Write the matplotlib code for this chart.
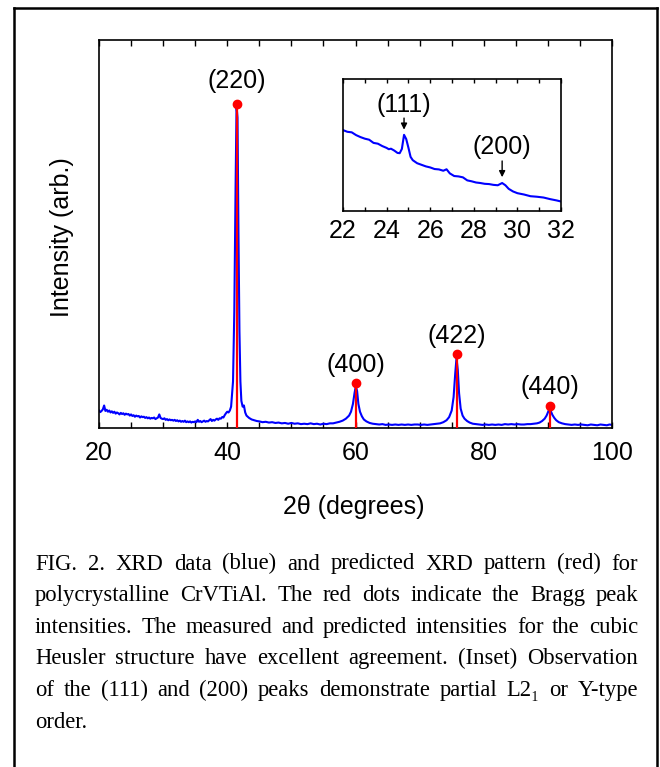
import matplotlib
matplotlib.use('Agg')
import matplotlib.pyplot as plt
from matplotlib.lines import Line2D
from matplotlib.ticker import MultipleLocator

plt.rcParams['font.family'] = ['Liberation Sans', 'DejaVu Sans']

# measured XRD pattern: 2theta (deg) vs intensity (arb.)
tth = [20.0, 20.2, 20.4, 20.6, 20.8, 21.0, 21.2, 21.4, 21.6, 21.8, 22.0, 22.2, 22.4, 22.6, 22.8,
       23.0, 23.2, 23.4, 23.6, 23.8, 24.0, 24.2, 24.4, 24.6, 24.8, 25.0, 25.2, 25.4, 25.6, 25.8,
       26.0, 26.2, 26.4, 26.6, 26.8, 27.0, 27.2, 27.4, 27.6, 27.8, 28.0, 28.2, 28.4, 28.6, 28.8,
       29.0, 29.2, 29.4, 29.6, 29.8, 30.0, 30.2, 30.4, 30.6, 30.8, 31.0, 31.2, 31.4, 31.6, 31.8,
       32.0, 32.2, 32.4, 32.6, 32.8, 33.0, 33.2, 33.4, 33.6, 33.8, 34.0, 34.2, 34.4, 34.6, 34.8,
       35.0, 35.2, 35.4, 35.6, 35.8, 36.0, 36.2, 36.4, 36.6, 36.8, 37.0, 37.2, 37.4, 37.6, 37.8,
       38.0, 38.2, 38.4, 38.6, 38.8, 39.0, 39.2, 39.4, 39.6, 39.8, 40.0, 40.2, 40.4,
       40.6, 40.9, 41.1, 41.3, 41.45, 41.6, 41.75, 41.9, 42.05, 42.2,
       42.4, 42.6, 42.8, 43.0, 43.4, 43.8, 44.2, 44.6, 45.0, 45.5, 46.0, 46.5, 47.0, 47.5, 48.0,
       48.5, 49.0, 49.5, 50.0, 50.5, 51.0, 51.5, 52.0, 52.5, 53.0, 53.5, 54.0, 54.5, 55.0, 55.5,
       56.0, 56.5, 57.0, 57.5, 58.0, 58.5, 59.0, 59.3, 59.6, 59.85, 60.05, 60.25, 60.45, 60.7, 61.0,
       61.3, 61.7, 62.2, 62.7, 63.2, 63.7, 64.2, 64.7, 65.2, 65.7, 66.2, 66.7, 67.2, 67.7, 68.2,
       68.7, 69.2, 69.7, 70.2, 70.7, 71.2, 71.7, 72.2, 72.7, 73.2, 73.7, 74.2, 74.6, 75.0, 75.3,
       75.55, 75.75, 75.95, 76.15, 76.4, 76.7, 77.0, 77.4, 77.8, 78.3, 78.8, 79.3, 79.8, 80.3, 80.8,
       81.3, 81.8, 82.3, 82.8, 83.3, 83.8, 84.3, 84.8, 85.3, 85.8, 86.3, 86.8, 87.3, 87.8, 88.3,
       88.7, 89.1, 89.5, 89.8, 90.05, 90.25, 90.45, 90.7, 91.0, 91.3, 91.7, 92.2, 92.7, 93.2, 93.7,
       94.2, 94.7, 95.2, 95.7, 96.2, 96.7, 97.2, 97.7, 98.2, 98.7, 99.2, 99.6, 100.0]
counts = [45, 41, 44, 48, 58, 44, 47, 42, 45, 40, 43, 39, 42, 37, 40,
          38, 35, 39, 36, 38, 34, 37, 35, 36, 32, 35, 31, 33, 29, 32,
          30, 31, 27, 30, 28, 29, 26, 28, 25, 27, 24, 26, 25, 27, 23,
          25, 27, 35, 26, 24, 23, 25, 21, 23, 20, 22, 20, 21, 19, 21,
          18, 20, 17, 19, 16, 18, 16, 19, 15, 17, 15, 17, 14, 16, 15,
          17, 15, 21, 16, 18, 15, 17, 19, 16, 18, 17, 20, 23, 18, 21,
          19, 22, 24, 21, 25, 24, 28, 27, 33, 38, 42, 40, 45,
          55, 120, 300, 620, 830, 800, 500, 250, 120, 70,
          55, 58, 40, 32, 26, 22, 20, 18, 17, 15, 16, 14, 15, 13, 14,
          12, 13, 11, 13, 11, 12, 10, 11, 10, 12, 10, 11, 9, 11, 10,
          12, 12, 14, 16, 19, 24, 32, 42, 62, 90, 108, 95, 62, 42, 30,
          22, 17, 13, 11, 10, 9, 10, 8, 9, 8, 9, 8, 9, 8, 9,
          8, 9, 9, 8, 9, 8, 9, 10, 11, 12, 15, 20, 28, 45, 80,
          140, 180, 150, 90, 50, 32, 24, 18, 14, 11, 10, 9, 8, 9, 8,
          9, 8, 9, 8, 10, 9, 10, 9, 10, 9, 9, 10, 10, 11, 12,
          14, 18, 24, 32, 42, 50, 44, 34, 26, 20, 15, 12, 10, 9, 8,
          9, 8, 9, 8, 7, 9, 8, 7, 9, 8, 7, 9, 8]

# predicted Bragg peaks
hkl = ['(220)', '(400)', '(422)', '(440)']
peak_pos = [41.45, 60.1, 75.8, 90.3]
peak_int = [835, 116, 191, 57]

# inset: low angle superlattice region
tth_in = [22.0, 22.2, 22.4, 22.6, 22.8, 23.0, 23.2, 23.4, 23.6, 23.8, 24.0, 24.1, 24.2, 24.35,
          24.5, 24.6, 24.7, 24.8, 24.9, 25.0, 25.1, 25.2, 25.4, 25.6, 25.8, 26.0, 26.2, 26.4,
          26.6, 26.75, 26.9, 27.1, 27.3, 27.5, 27.7, 27.9, 28.1, 28.3, 28.5, 28.7, 28.9, 29.1,
          29.3, 29.45, 29.6, 29.8, 30.0, 30.3, 30.6, 30.9, 31.2, 31.5, 31.8, 32.0]
counts_in = [0.613, 0.600, 0.596, 0.575, 0.560, 0.548, 0.540, 0.516, 0.510, 0.492, 0.478, 0.468,
             0.472, 0.458, 0.440, 0.438, 0.470, 0.577, 0.545, 0.480, 0.410, 0.385, 0.362, 0.350,
             0.338, 0.330, 0.318, 0.315, 0.305, 0.316, 0.285, 0.265, 0.262, 0.255, 0.232, 0.225,
             0.216, 0.212, 0.206, 0.204, 0.198, 0.195, 0.212, 0.195, 0.168, 0.148, 0.135, 0.125,
             0.112, 0.108, 0.102, 0.090, 0.080, 0.072]
in_hkl = ['(111)', '(200)']
in_pos = [24.8, 29.3]

caption = ["FIG. 2. XRD data (blue) and predicted XRD pattern (red) for",
           "polycrystalline CrVTiAl. The red dots indicate the Bragg peak",
           "intensities. The measured and predicted intensities for the cubic",
           "Heusler structure have excellent agreement. (Inset) Observation",
           "of the (111) and (200) peaks demonstrate partial L2\u2081 or Y-type",
           "order."]

W, H = 660, 767
fig = plt.figure(figsize=(6.6, 7.67), dpi=100)

# main panel
ax = fig.add_axes([99/W, 1-428/H, 513/W, 388/H])
ax.plot(tth, counts, color='blue', lw=1.5, zorder=2)
ax.vlines(peak_pos, 0, peak_int, color='red', lw=1.6, zorder=3)
ax.plot(peak_pos, peak_int, 'o', color='red', ms=6, zorder=4)
lab_off = [59, 46, 46, 49]
for p, h, name, o in zip(peak_pos, peak_int, hkl, lab_off):
    ax.text(p, h + o, name, ha='center', va='center', fontsize=18)
ax.set_xlim(20, 100)
ax.set_ylim(0, 1000)
ax.set_yticks([])
ax.xaxis.set_major_locator(MultipleLocator(20))
ax.xaxis.set_minor_locator(MultipleLocator(5))
ax.tick_params(axis='x', which='both', direction='in', top=True, length=4, width=1)
ax.tick_params(axis='x', which='major', labelsize=18, pad=9)
for s in ax.spines.values():
    s.set_linewidth(1.2)

fig.text(62/W, 1-237/H, 'Intensity (arb.)', rotation=90, ha='center', va='center', fontsize=18)
fig.text(354/W, 1-507/H, '2\u03b8 (degrees)', ha='center', va='center', fontsize=18)

# inset
ins = fig.add_axes([343/W, 1-211/H, 218/W, 132/H])
ins.plot(tth_in, counts_in, color='blue', lw=1.5)
ins.set_xlim(22, 32)
ins.set_ylim(0, 1)
ins.set_yticks([])
ins.xaxis.set_major_locator(MultipleLocator(2))
ins.xaxis.set_minor_locator(MultipleLocator(1))
ins.tick_params(axis='x', which='both', direction='in', top=True, length=3, width=1)
ins.tick_params(axis='x', which='major', labelsize=18, pad=6)
for s in ins.spines.values():
    s.set_linewidth(1.2)
text_y = [0.80, 0.487]
arrow_y = [(0.725, 0.595), (0.40, 0.235)]
for p, name, ty, (a0, a1) in zip(in_pos, in_hkl, text_y, arrow_y):
    ins.text(p, ty, name, ha='center', va='center', fontsize=18)
    ins.annotate('', xy=(p, a1), xytext=(p, a0),
                 arrowprops=dict(arrowstyle='-|>', color='black', lw=1, mutation_scale=9))

# outer frame
for xs, ys in [([14, 14], [H, 8]), ([14, 657], [8, 8]), ([657, 657], [8, H])]:
    fig.add_artist(Line2D([x/W for x in xs], [1-y/H for y in ys], color='black', lw=1.8))

# justified caption
serif = ['Liberation Serif', 'DejaVu Serif']
r = fig.canvas.get_renderer()
x0, x1 = 35, 638
for i, line in enumerate(caption):
    yb = 1 - (569.5 + i*31.6)/H
    words = line.split(' ')
    texts = [fig.text(0, yb, w, fontsize=16.3, family=serif, va='baseline') for w in words]
    widths = [t.get_window_extent(r).width for t in texts]
    if i == len(caption) - 1 or len(words) == 1:
        gap = 4.5
    else:
        gap = ((x1 - x0) - sum(widths)) / (len(words) - 1)
    x = x0
    for t, w in zip(texts, widths):
        t.set_x(x/W)
        x += w + gap

fig.savefig('out.png', dpi=100)
